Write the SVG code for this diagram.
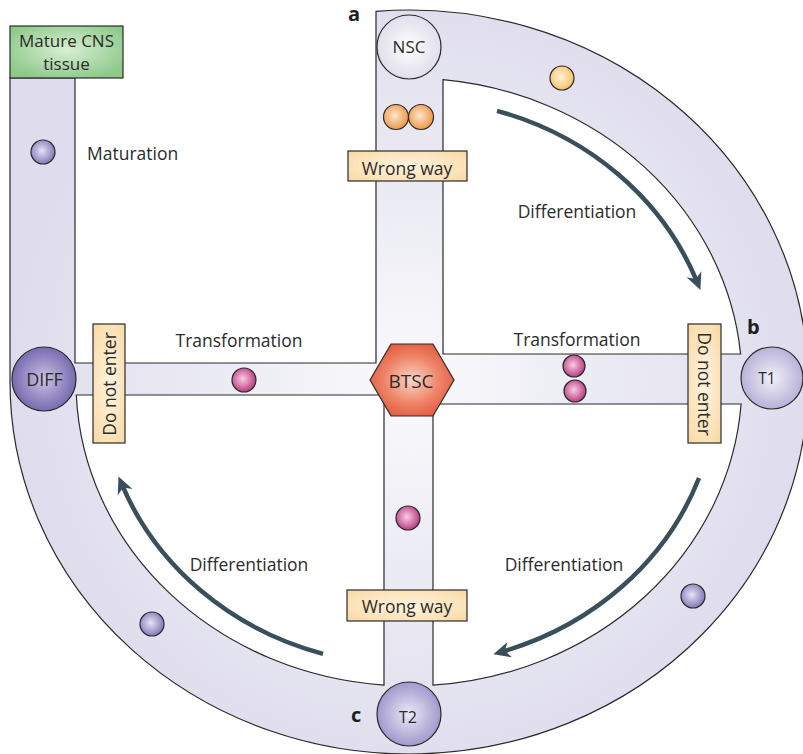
<svg xmlns="http://www.w3.org/2000/svg" width="803" height="754" viewBox="0 0 803 754">
<style>
text{font-family:"Open Sans","Liberation Sans",sans-serif;fill:#2b2b2b;}
.lbl{font-size:17.5px;}
.mid{text-anchor:middle;}
.bold{font-weight:700;font-size:20px;fill:#1e1e1e;}
.edge{stroke:#2a2a2a;stroke-width:1.2;}
.sign{fill:url(#gSign);stroke:#2a2a2a;stroke-width:1.2;}
.ball{stroke:#2a2a2a;stroke-width:1.2;}
.arrow{fill:none;stroke:#39505b;stroke-width:4.5;marker-end:url(#ah);}
</style>
<defs>
<radialGradient id="gRing" gradientUnits="userSpaceOnUse" cx="409" cy="382" r="400">
<stop offset="0" stop-color="#fbfbfd"/><stop offset="0.4" stop-color="#ededf5"/><stop offset="1" stop-color="#dfdded"/>
</radialGradient>
<radialGradient id="gGreen" cx="0.5" cy="0.45" r="0.6">
<stop offset="0" stop-color="#d8efd4"/><stop offset="1" stop-color="#8ec98a"/>
</radialGradient>
<radialGradient id="gSign" cx="0.5" cy="0.5" r="0.7">
<stop offset="0" stop-color="#fff4e0"/><stop offset="1" stop-color="#f9d9a4"/>
</radialGradient>
<radialGradient id="gHex" cx="0.5" cy="0.5" r="0.55">
<stop offset="0" stop-color="#f9d5c8"/><stop offset="0.6" stop-color="#ee8467"/><stop offset="1" stop-color="#e25a3f"/>
</radialGradient>
<radialGradient id="gNSC" cx="0.5" cy="0.5" r="0.55">
<stop offset="0" stop-color="#ffffff"/><stop offset="1" stop-color="#dddbea"/>
</radialGradient>
<radialGradient id="gT1" cx="0.5" cy="0.5" r="0.55">
<stop offset="0" stop-color="#f2f1f8"/><stop offset="1" stop-color="#b2abd5"/>
</radialGradient>
<radialGradient id="gT2" cx="0.5" cy="0.5" r="0.55">
<stop offset="0" stop-color="#ebe9f6"/><stop offset="1" stop-color="#9a90c8"/>
</radialGradient>
<radialGradient id="gDiff" cx="0.5" cy="0.5" r="0.55">
<stop offset="0" stop-color="#c9c2e4"/><stop offset="1" stop-color="#6f62aa"/>
</radialGradient>
<radialGradient id="gPurple" cx="0.45" cy="0.45" r="0.6">
<stop offset="0" stop-color="#e6e3f5"/><stop offset="1" stop-color="#7b70b3"/>
</radialGradient>
<radialGradient id="gOrange" cx="0.45" cy="0.45" r="0.6">
<stop offset="0" stop-color="#fde6cc"/><stop offset="1" stop-color="#ec9140"/>
</radialGradient>
<radialGradient id="gYellow" cx="0.45" cy="0.45" r="0.6">
<stop offset="0" stop-color="#fff3da"/><stop offset="1" stop-color="#f5bd5c"/>
</radialGradient>
<radialGradient id="gMag" cx="0.45" cy="0.45" r="0.6">
<stop offset="0" stop-color="#f7cde3"/><stop offset="1" stop-color="#b52f7a"/>
</radialGradient>
<marker id="ah" markerUnits="userSpaceOnUse" markerWidth="30" markerHeight="30" viewBox="-15 -15 30 30" refX="0" refY="0" orient="auto">
<path d="M9,0 L-8,-8 L-3,0 L-8,8 Z" fill="#39505b"/>
</marker>
</defs>

<g id="pathway">
<path class="edge" fill="url(#gRing)" fill-rule="evenodd" d="M376 11.3 A399 372 0 1 1 10 382 L10 78 L75 78 L75 363 L376 363 Z M443 79.6 L443 354 L740.6 354 A333 304 0 0 0 443 79.6 Z M433 404 L433 685.2 A333 304 0 0 0 741.1 404 Z M384 395 L76.3 395 A333 304 0 0 0 384 685.1 Z"/>
</g>

<g id="connectors">
<path class="arrow" d="M497 110.8 A308 283 0 0 1 697 281.7"/>
<path class="arrow" d="M699 478 A308 283 0 0 1 502 651.8"/>
<path class="arrow" d="M323 653.8 A308 283 0 0 1 122 484.7"/>
</g>

<g id="mature-cns">
<rect class="edge" x="10" y="26" width="113" height="52" fill="url(#gGreen)"/>
<text class="mid" x="66.5" y="46.5" style="font-size:17px">Mature CNS</text>
<text class="mid" x="66.5" y="70" style="font-size:17px">tissue</text>
</g>

<g id="nsc">
<circle class="edge" cx="409" cy="47" r="32" fill="url(#gNSC)"/>
<text class="mid" x="409" y="53" style="font-size:17px">NSC</text>
</g>

<g id="btsc">
<polygon class="edge" points="370,380 391,344 433,344 454,380 433,416 391,416" fill="url(#gHex)"/>
<text class="mid" x="411" y="388" style="font-size:19px">BTSC</text>
</g>

<g id="t1">
<circle class="edge" cx="772" cy="378" r="31" fill="url(#gT1)"/>
<text class="mid" x="767" y="384" style="font-size:15.5px">T1</text>
</g>

<g id="t2">
<circle class="edge" cx="409" cy="714" r="32" fill="url(#gT2)"/>
<text class="mid" x="408" y="723" style="font-size:16px">T2</text>
</g>

<g id="diff">
<circle class="edge" cx="44" cy="379" r="32" fill="url(#gDiff)"/>
<text class="mid" x="44.5" y="386" style="font-size:18px">DIFF</text>
</g>

<g id="wrong-way-top">
<rect class="sign" x="348" y="151" width="119" height="30"/>
<text class="lbl mid" x="407" y="175">Wrong way</text>
</g>

<g id="wrong-way-bottom">
<rect class="sign" x="347" y="590" width="120" height="31"/>
<text class="lbl mid" x="407" y="613">Wrong way</text>
</g>

<g id="do-not-enter-left">
<rect class="sign" x="93" y="324" width="32" height="119"/>
<text class="lbl mid" transform="translate(109,384) rotate(-90)" x="0" y="6.5">Do not enter</text>
</g>

<g id="do-not-enter-right">
<rect class="sign" x="688" y="324" width="33" height="119"/>
<text class="lbl mid" transform="translate(704.5,384) rotate(90)" x="0" y="6.5">Do not enter</text>
</g>

<g id="cells">
<circle class="ball" cx="43" cy="152" r="12" fill="url(#gPurple)"/>
<circle class="ball" cx="693" cy="596" r="12" fill="url(#gPurple)"/>
<circle class="ball" cx="152" cy="624" r="12" fill="url(#gPurple)"/>
<circle class="ball" cx="396" cy="117" r="12.5" fill="url(#gOrange)"/>
<circle class="ball" cx="421" cy="117" r="12.5" fill="url(#gOrange)"/>
<circle class="ball" cx="562" cy="78" r="12" fill="url(#gYellow)"/>
<circle class="ball" cx="244" cy="380" r="12" fill="url(#gMag)"/>
<circle class="ball" cx="574" cy="366" r="11" fill="url(#gMag)"/>
<circle class="ball" cx="575" cy="391" r="11" fill="url(#gMag)"/>
<circle class="ball" cx="408" cy="518" r="12" fill="url(#gMag)"/>
</g>

<g id="labels">
<text class="lbl" x="87" y="160">Maturation</text>
<text class="lbl mid" x="239" y="347">Transformation</text>
<text class="lbl mid" x="577" y="346">Transformation</text>
<text class="lbl mid" x="577" y="218">Differentiation</text>
<text class="lbl mid" x="564" y="571">Differentiation</text>
<text class="lbl mid" x="249" y="571">Differentiation</text>
<text class="bold" x="348" y="21">a</text>
<text class="bold" x="747" y="334">b</text>
<text class="bold" x="351" y="722">c</text>
</g>
</svg>
